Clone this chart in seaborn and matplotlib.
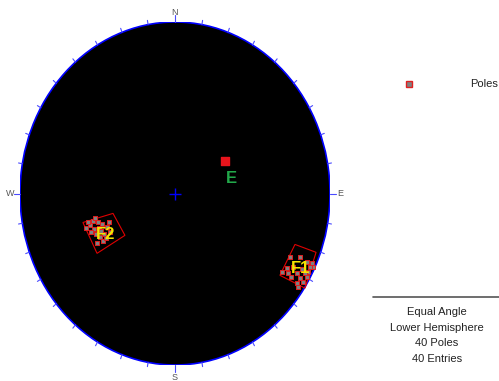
import numpy as np
import pandas as pd
import matplotlib
matplotlib.use("Agg")
import matplotlib.pyplot as plt
from matplotlib.patches import Ellipse, Polygon
import seaborn as sns

# pole positions on the net plane (east, north), unit radius
f2_east = [-0.529, -0.548, -0.497, -0.471, -0.523, -0.490, -0.542, -0.510, -0.484, -0.458,
           -0.439, -0.574, -0.465, -0.503, -0.419, -0.445, -0.477, -0.561, -0.516, -0.426]
f2_north = [-0.163, -0.186, -0.169, -0.180, -0.209, -0.203, -0.227, -0.238, -0.256, -0.238,
            -0.198, -0.203, -0.279, -0.291, -0.227, -0.262, -0.221, -0.169, -0.145, -0.169]
f1_east = [0.742, 0.806, 0.852, 0.884, 0.890, 0.723, 0.690, 0.729, 0.787, 0.806,
           0.787, 0.826, 0.852, 0.858, 0.761, 0.871, 0.819, 0.839, 0.794, 0.748]
f1_north = [-0.372, -0.372, -0.401, -0.407, -0.430, -0.436, -0.459, -0.465, -0.465, -0.494,
            -0.523, -0.517, -0.488, -0.459, -0.430, -0.430, -0.442, -0.465, -0.547, -0.488]

# window selections
f2_box = [(-0.594, -0.169), (-0.400, -0.116), (-0.323, -0.244), (-0.503, -0.349)]
f1_box = [(0.774, -0.297), (0.910, -0.343), (0.839, -0.552), (0.677, -0.477)]

e_point = (0.323, 0.192)

info_lines = ["Equal Angle", "Lower Hemisphere", "40 Poles", "40 Entries"]

poles = pd.DataFrame({
    "east": f2_east + f1_east,
    "north": f2_north + f1_north,
    "set": ["F2"] * len(f2_east) + ["F1"] * len(f1_east),
})

sns.set_style("white")
plt.rcParams["font.family"] = ["Liberation Sans", "DejaVu Sans"]

fig = plt.figure(figsize=(4.99, 3.81), dpi=100)
ax = fig.add_axes([20 / 499, 16 / 381, 310 / 499, 343 / 381])
ax.set_xlim(-1, 1)
ax.set_ylim(-1, 1)
ax.axis("off")

ax.add_patch(Ellipse((0, 0), 2, 2, facecolor="black", edgecolor="#0000ff", lw=1.2, zorder=1))

# azimuth ticks every 10 degrees
for az in range(0, 360, 10):
    a = np.radians(az)
    r2 = 1.04 if az % 90 == 0 else 1.025
    ax.plot([np.sin(a), r2 * np.sin(a)], [np.cos(a), r2 * np.cos(a)],
            color="#4a4aff", lw=0.8, clip_on=False, zorder=2)

ax.plot(0, 0, marker="+", color="#0000ff", markersize=8, mew=1, zorder=3)

for box in (f2_box, f1_box):
    ax.add_patch(Polygon(box, closed=True, fill=False, edgecolor="#e00000", lw=0.8, zorder=3))

sns.scatterplot(data=poles, x="east", y="north", ax=ax, marker="s", s=12,
                color="#808080", edgecolor="#e02020", linewidth=0.7, legend=False, zorder=4)

ax.scatter([e_point[0]], [e_point[1]], marker="s", s=26, color="#e8141c",
           edgecolor="#e8141c", zorder=5)

ax.text(0.365, 0.087, "E", color="#22a84a", fontsize=12, fontweight="bold",
        ha="center", va="center", zorder=6)
ax.text(-0.445, -0.24, "F2", color="#f5e400", fontsize=12, fontweight="bold",
        ha="center", va="center", zorder=6)
ax.text(0.81, -0.44, "F1", color="#f5e400", fontsize=12, fontweight="bold",
        ha="center", va="center", zorder=6)

lab = dict(color="#555555", fontsize=6.5, ha="center", va="center")
ax.text(0, 1.055, "N", **lab)
ax.text(0, -1.07, "S", **lab)
ax.text(1.065, 0, "E", **lab)
ax.text(-1.065, 0, "W", **lab)

# legend and info panel
fig.add_artist(plt.Line2D([409 / 499], [1 - 84 / 381], marker="s", markersize=3.8,
                          markerfacecolor="#808080", markeredgecolor="#e02020", mew=1,
                          transform=fig.transFigure))
fig.text(470 / 499, 1 - 84 / 381, "Poles", fontsize=8, color="#222222",
         ha="left", va="center")

fig.add_artist(plt.Line2D([373 / 499, 1.0], [1 - 297 / 381] * 2, color="#555555", lw=1.2,
                          transform=fig.transFigure))
for i, line in enumerate(info_lines):
    fig.text(437 / 499, 1 - (312 + 15.7 * i) / 381, line, fontsize=8, color="#222222",
             ha="center", va="center")

fig.savefig("out.png", dpi=100)
